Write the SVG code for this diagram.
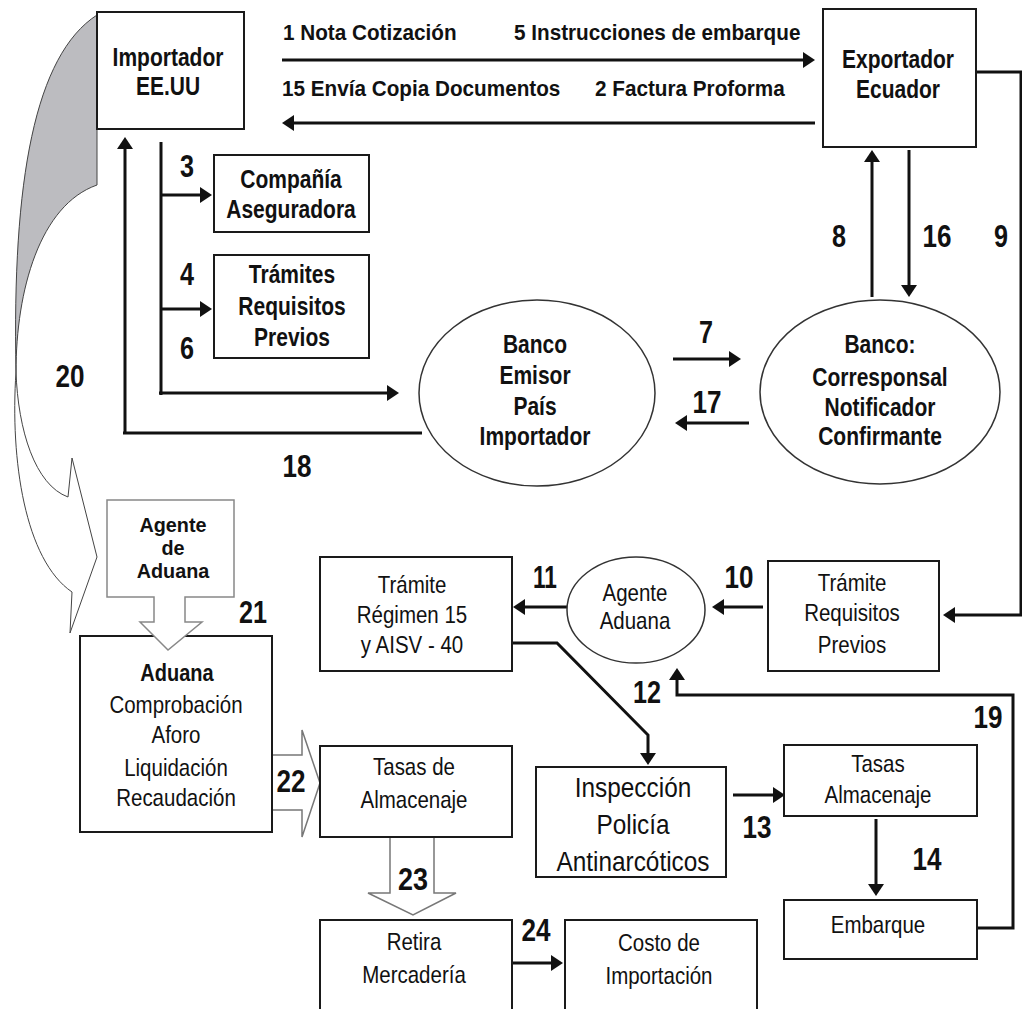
<svg xmlns="http://www.w3.org/2000/svg" width="1022" height="1009" viewBox="0 0 1022 1009">
<defs>
<marker id="ah" viewBox="0 0 12 16" refX="2" refY="8" markerWidth="12" markerHeight="16" markerUnits="userSpaceOnUse" orient="auto"><path d="M0,0 L12,8 L0,16 z" fill="#111"/></marker>
<style>
.box{fill:#fff;stroke:#1a1a1a;stroke-width:2}
.ell{fill:#fff;stroke:#333;stroke-width:1.5}
.ln{fill:none;stroke:#111;stroke-width:3}
.arr{fill:none;stroke:#111;stroke-width:3;marker-end:url(#ah)}
.blk{fill:#fff;stroke:#777;stroke-width:1.5}
text{font-family:"Liberation Sans",Arial,sans-serif;fill:#111;text-anchor:middle}
.b{font-weight:bold;font-size:21px}
.r{font-size:20.5px}
.b,.r{transform-box:fill-box;transform-origin:center;transform:scaleY(1.2)}
.ag{font-weight:bold;font-size:19.8px}
.i{font-size:24.4px;transform-box:fill-box;transform-origin:center;transform:scaleY(1.1)}
.n{font-weight:bold;font-size:32px}
.lab{font-weight:bold;font-size:20.7px;text-anchor:start;transform-box:fill-box;transform-origin:center;transform:scaleY(1.06)}
</style>
</defs>
<rect width="1022" height="1009" fill="#fff"/>

<g id="arrow20">
<path d="M97,15 C35,55 12,180 16,372 C16,290 40,205 97,185 Z" fill="#bcbcc0" stroke="#444" stroke-width="1"/>
<path d="M16,372 C18,430 35,485 68,497 L72,458 L97,557 L70,633 L72,592 C25,560 10,460 16,372 Z" fill="#fff" stroke="#444" stroke-width="1"/>
</g>

<g id="connectors">
<path class="arr" d="M282,60 L805,60"/>
<path class="arr" d="M815,123 L292,123"/>
<path class="ln" d="M161,142 L161,395" stroke-width="5"/>
<path class="arr" d="M159,393 L389,393"/>
<path class="arr" d="M161,195 L202,195" stroke-width="2.5"/>
<path class="arr" d="M161,309 L202,309" stroke-width="2.5"/>
<path class="ln" d="M422,433 L123,433" stroke-width="5"/>
<path class="arr" d="M125,433 L125,147"/>
<path class="arr" d="M673,359 L731,359"/>
<path class="arr" d="M749,423 L685,423"/>
<path class="arr" d="M872,297 L872,160"/>
<path class="arr" d="M909,150 L909,287"/>
<path class="arr" d="M976,72 L1021,72 L1021,615 L953,615"/>
<path class="arr" d="M763,607 L722,607"/>
<path class="arr" d="M567,607 L523,607"/>
<path class="arr" d="M512,643 L557,643 L648,735 L648,755"/>
<path class="arr" d="M977,928 L1013,928 L1013,695 L677,695 L677,678"/>
<path class="arr" d="M733,795 L775,795"/>
<path class="arr" d="M876,819 L876,886"/>
<path class="arr" d="M512,963 L553,963"/>
<path id="arrow22" class="blk" d="M272,755 L302,755 L302,730 L320,783 L302,837 L302,810 L272,810"/>
<path id="arrow23" class="blk" d="M390,837 L390,893 L368,893 L413,915 L456,893 L434,893 L434,837"/>
</g>

<g id="labels">
<text class="lab" x="283" y="40">1 Nota Cotización</text>
<text class="lab" x="514" y="40">5 Instrucciones de embarque</text>
<text class="lab" x="282" y="96">15 Envía Copia Documentos</text>
<text class="lab" x="595" y="96">2 Factura Proforma</text>
<text class="n" x="187" y="177" textLength="14" lengthAdjust="spacingAndGlyphs">3</text>
<text class="n" x="187" y="285" textLength="14" lengthAdjust="spacingAndGlyphs">4</text>
<text class="n" x="187" y="359" textLength="14" lengthAdjust="spacingAndGlyphs">6</text>
<text class="n" x="70" y="387" textLength="29" lengthAdjust="spacingAndGlyphs">20</text>
<text class="n" x="297" y="477" textLength="29" lengthAdjust="spacingAndGlyphs">18</text>
<text class="n" x="706" y="343" textLength="14" lengthAdjust="spacingAndGlyphs">7</text>
<text class="n" x="707" y="413" textLength="29" lengthAdjust="spacingAndGlyphs">17</text>
<text class="n" x="839" y="247" textLength="14" lengthAdjust="spacingAndGlyphs">8</text>
<text class="n" x="937" y="247" textLength="29" lengthAdjust="spacingAndGlyphs">16</text>
<text class="n" x="1001" y="247" textLength="14" lengthAdjust="spacingAndGlyphs">9</text>
<text class="n" x="253" y="623" textLength="28" lengthAdjust="spacingAndGlyphs">21</text>
<text class="n" x="291" y="792" textLength="29" lengthAdjust="spacingAndGlyphs">22</text>
<text class="n" x="545" y="588" textLength="24" lengthAdjust="spacingAndGlyphs">11</text>
<text class="n" x="647" y="703" textLength="28" lengthAdjust="spacingAndGlyphs">12</text>
<text class="n" x="739" y="588" textLength="29" lengthAdjust="spacingAndGlyphs">10</text>
<text class="n" x="988" y="728" textLength="29" lengthAdjust="spacingAndGlyphs">19</text>
<text class="n" x="757" y="838" textLength="29" lengthAdjust="spacingAndGlyphs">13</text>
<text class="n" x="927" y="870" textLength="29" lengthAdjust="spacingAndGlyphs">14</text>
<text class="n" x="413" y="890" textLength="30" lengthAdjust="spacingAndGlyphs">23</text>
<text class="n" x="536" y="941" textLength="29" lengthAdjust="spacingAndGlyphs">24</text>
</g>

<g id="importador">
<rect class="box" x="97" y="12" width="147" height="117"/>
<text class="b" x="168" y="65">Importador</text>
<text class="b" x="168" y="94">EE.UU</text>
</g>

<g id="exportador">
<rect class="box" x="823" y="9" width="153" height="138"/>
<text class="b" x="898" y="67">Exportador</text>
<text class="b" x="898" y="97">Ecuador</text>
</g>

<g id="aseguradora">
<rect class="box" x="214" y="155" width="155" height="77"/>
<text class="b" x="291" y="187">Compañía</text>
<text class="b" x="291" y="217">Aseguradora</text>
</g>

<g id="tramites-previos">
<rect class="box" x="214" y="255" width="155" height="103"/>
<text class="b" x="292" y="282">Trámites</text>
<text class="b" x="292" y="314">Requisitos</text>
<text class="b" x="292" y="345">Previos</text>
</g>

<g id="banco-emisor">
<ellipse class="ell" cx="537" cy="393" rx="118" ry="93"/>
<text class="b" x="535" y="352">Banco</text>
<text class="b" x="535" y="383">Emisor</text>
<text class="b" x="535" y="414">País</text>
<text class="b" x="535" y="444">Importador</text>
</g>

<g id="banco-corresponsal">
<ellipse class="ell" cx="880" cy="392" rx="120" ry="92"/>
<text class="b" x="880" y="352">Banco:</text>
<text class="b" x="880" y="385">Corresponsal</text>
<text class="b" x="880" y="415">Notificador</text>
<text class="b" x="880" y="444">Confirmante</text>
</g>

<g id="aduana">
<rect class="box" x="80" y="636" width="192" height="196"/>
<text class="b" x="177" y="680" style="font-size:20px">Aduana</text>
<text class="r" x="176" y="712">Comprobación</text>
<text class="r" x="176" y="742">Aforo</text>
<text class="r" x="176" y="775">Liquidación</text>
<text class="r" x="176" y="805">Recaudación</text>
</g>

<g id="agente-de-aduana">
<path d="M107,500 L234,500 L234,597 L185,597 L185,622 L202,622 L168,650 L140,622 L154,622 L154,597 L107,597 Z" fill="#fff" stroke="#888" stroke-width="1.5"/>
<text class="ag" x="173" y="532">Agente</text>
<text class="ag" x="173" y="555">de</text>
<text class="ag" x="173" y="578">Aduana</text>
</g>

<g id="tramite-regimen">
<rect class="box" x="320" y="557" width="192" height="114"/>
<text class="r" x="412" y="592">Trámite</text>
<text class="r" x="412" y="622">Régimen 15</text>
<text class="r" x="412" y="652">y AISV - 40</text>
</g>

<g id="agente-aduana">
<ellipse class="ell" cx="636" cy="610" rx="69" ry="53"/>
<text class="r" x="635" y="600">Agente</text>
<text class="r" x="635" y="628">Aduana</text>
</g>

<g id="tramite-requisitos">
<rect class="box" x="768" y="561" width="171" height="110"/>
<text class="r" x="852" y="590">Trámite</text>
<text class="r" x="852" y="620">Requisitos</text>
<text class="r" x="852" y="652">Previos</text>
</g>

<g id="tasas-de-almacenaje">
<rect class="box" x="320" y="746" width="192" height="91"/>
<text class="r" x="414" y="774">Tasas de</text>
<text class="r" x="414" y="807">Almacenaje</text>
</g>

<g id="inspeccion">
<rect class="box" x="536" y="767" width="190" height="110"/>
<text class="i" x="633" y="796">Inspección</text>
<text class="i" x="633" y="833">Policía</text>
<text class="i" x="633" y="870">Antinarcóticos</text>
</g>

<g id="tasas-almacenaje">
<rect class="box" x="784" y="745" width="193" height="71"/>
<text class="r" x="878" y="771">Tasas</text>
<text class="r" x="878" y="802">Almacenaje</text>
</g>

<g id="embarque">
<rect class="box" x="784" y="900" width="193" height="59"/>
<text class="r" x="878" y="932">Embarque</text>
</g>

<g id="retira">
<rect class="box" x="320" y="920" width="192" height="100"/>
<text class="r" x="414" y="949">Retira</text>
<text class="r" x="414" y="982">Mercadería</text>
</g>

<g id="costo">
<rect class="box" x="565" y="920" width="192" height="100"/>
<text class="r" x="659" y="950">Costo de</text>
<text class="r" x="659" y="983">Importación</text>
</g>
</svg>
